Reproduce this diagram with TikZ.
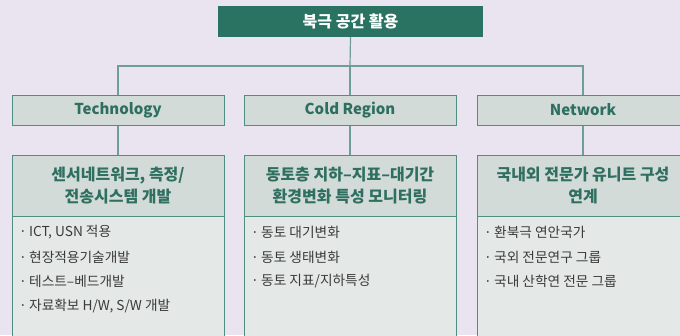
\documentclass[tikz,border=0pt]{standalone}
\usepackage{fontspec}
\setmainfont{Noto Sans CJK KR}
\definecolor{bgc}{HTML}{EAE4F0}
\definecolor{topfill}{HTML}{2A7262}
\definecolor{headfill}{HTML}{D2DBD8}
\definecolor{bodyfill}{HTML}{E4E9E7}
\definecolor{bordc}{HTML}{4E8F7F}
\definecolor{greentxt}{HTML}{2F6F60}
\definecolor{linec}{HTML}{6E9E94}
\definecolor{bodytxt}{HTML}{3A3A3A}
\tikzset{
  topbox/.style={fill=topfill, draw=none, minimum width=265pt, minimum height=31pt, inner sep=0pt,
    text=white, font=\fontsize{16}{18}\selectfont\bfseries},
  colbox/.style={fill=headfill, draw=bordc, line width=1pt, minimum width=212pt, minimum height=30pt, inner sep=0pt,
    text=greentxt, font=\fontsize{15}{17}\selectfont\bfseries},
  headbox/.style={fill=headfill, draw=bordc, line width=1pt, minimum width=212pt, minimum height=61pt, inner sep=0pt,
    text=greentxt, align=center, font=\fontsize{16}{22}\selectfont\bfseries},
  bodybox/.style={fill=bodyfill, draw=bordc, line width=1pt, minimum width=212pt, minimum height=129pt, inner sep=0pt},
  item/.style={anchor=west, inner sep=0pt, text=bodytxt, font=\fontsize{13.7}{15}\selectfont},
  conn/.style={draw=linec, line width=1.2pt}
}
\begin{document}
\begin{tikzpicture}[x=1pt,y=-1pt]
\fill[bgc] (0,0) rectangle (680,335);
\useasboundingbox (0,0) rectangle (680,335);
\begin{scope}
\clip (0,0) rectangle (680,335);
\node[topbox] (top) at (350.5,21.5) {북극 공간 활용};
\coordinate (j) at (350,66);

\node[colbox] (c1) at (118,110) {Technology};
\node[colbox] (c2) at (350,110) {Cold Region};
\node[colbox] (c3) at (583,110) {Network};

\node[bodybox] (b1) at (118,280.5) {};
\node[bodybox] (b2) at (350,280.5) {};
\node[bodybox] (b3) at (583,280.5) {};

\node[headbox] (h1) at (118,185.5) {센서네트워크, 측정/\\전송시스템 개발};
\node[headbox] (h2) at (350,185.5) {동토층 지하–지표–대기간\\환경변화 특성 모니터링};
\node[headbox] (h3) at (583,185.5) {국내외 전문가 유니트 구성\\연계};

\draw[conn] (top.south) -- (j);
\draw[conn] (c1.north) |- (j) -| (c3.north);
\draw[conn] (j) -- (c2.north);
\draw[conn] (c1.south) -- (h1.north);
\draw[conn] (c2.south) -- (h2.north);
\draw[conn] (c3.south) -- (h3.north);

\node[item] (t1) at (19,232) {·\,ICT, USN 적용};
\node[item] (t2) at (19,257) {·\,현장적용기술개발};
\node[item] (t3) at (19,281) {·\,테스트–베드개발};
\node[item] (t4) at (19,306) {·\,자료확보 H/W, S/W 개발};

\node[item] (r1) at (251,232) {·\,동토 대기변화};
\node[item] (r2) at (251,257) {·\,동토 생태변화};
\node[item] (r3) at (251,281) {·\,동토 지표/지하특성};

\node[item] (n1) at (484,232) {·\,환북극 연안국가};
\node[item] (n2) at (484,257) {·\,국외 전문연구 그룹};
\node[item] (n3) at (484,281) {·\,국내 산학연 전문 그룹};
\end{scope}
\end{tikzpicture}
\end{document}
